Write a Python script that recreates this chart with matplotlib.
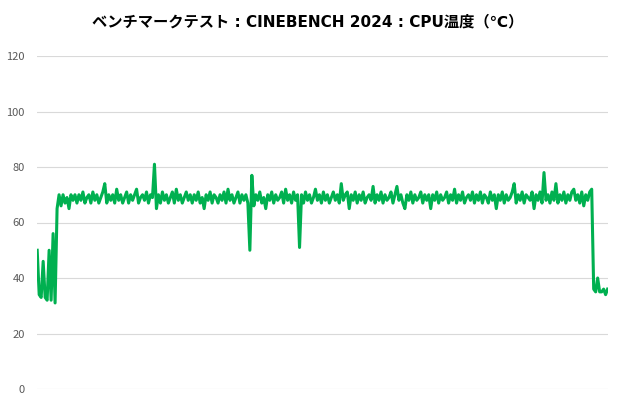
import matplotlib
matplotlib.use('Agg')
import matplotlib.pyplot as plt

# CPU temperature samples (deg C)
temps = [
    50, 34, 33, 46, 33, 32, 50, 32, 56, 31, 65,
    70, 66, 70, 67, 69, 65, 70, 68, 70,
    67, 70, 68, 71, 67, 69, 70, 67, 71, 68,
    70, 67, 69, 71, 74, 67, 70, 68, 70, 67,
    72, 68, 70, 67, 69, 71, 67, 70, 68, 70,
    72, 67, 69, 70, 68, 71, 67, 70, 69, 81,
    65, 70, 67, 71, 68, 70, 67, 69, 71, 67,
    72, 68, 70, 67, 69, 71, 68, 70, 67, 70,
    68, 71, 67, 69, 65, 70, 68, 71, 67, 70,
    69, 67, 70, 68, 71, 67, 72, 68, 70, 67,
    69, 71, 67, 70, 68, 70, 67, 50, 77, 66,
    70, 68, 71, 67, 69, 65, 70, 68, 71, 67,
    70, 68, 69, 71, 67, 72, 68, 70, 67, 71,
    68, 70, 51, 70, 67, 71, 68, 70, 67, 69,
    72, 68, 70, 67, 71, 68, 70, 67, 69, 71,
    68, 70, 67, 74, 68, 70, 71, 65, 70, 68,
    71, 67, 70, 68, 71, 67, 69, 70, 68, 73,
    67, 70, 68, 71, 67, 70, 68, 69, 71, 67,
    70, 73, 68, 70, 67, 65, 70, 68, 71, 67,
    70, 68, 69, 71, 67, 70, 68, 70, 65, 70,
    68, 71, 67, 70, 68, 69, 71, 67, 70, 68,
    72, 67, 70, 68, 71, 67, 69, 70, 68, 71,
    67, 70, 68, 71, 67, 70, 69, 67, 71, 68,
    70, 65, 70, 68, 71, 67, 70, 68, 69, 71,
    74, 67, 70, 68, 71, 67, 70, 69, 68, 71,
    65, 70, 68, 71, 67, 78, 68, 70, 67, 71,
    68, 74, 67, 70, 68, 71, 67, 70, 68, 71,
    72, 68, 70, 67, 71, 66, 70, 68, 71, 72,
    36, 35, 40, 35, 35, 36, 34, 36,
]
y_ticks = [0, 20, 40, 60, 80, 100, 120]
title = 'ベンチマークテスト : CINEBENCH 2024 : CPU温度（℃）'

plt.rcParams['font.family'] = ['Noto Sans CJK JP', 'DejaVu Sans']

fig = plt.figure(figsize=(6.2, 4.0), dpi=100)
ax = fig.add_axes([0.06, 0.0275, 0.92, 0.8325])

ax.plot(range(len(temps)), temps, color='#00b050', linewidth=2.2,
        solid_joinstyle='round')

ax.set_ylim(0, 120)
ax.set_xlim(0, len(temps) - 1)
ax.set_yticks(y_ticks)
ax.set_xticks([])
ax.grid(axis='y', color='#d9d9d9', linewidth=0.8)
ax.set_axisbelow(True)
for s in ax.spines.values():
    s.set_visible(False)
ax.tick_params(axis='y', length=0, labelsize=8, labelcolor='#595959', pad=9)

# latin part in a wider face, kana/kanji fall back to Noto CJK
fig.text(0.497, 0.945, title, ha='center', va='center',
         fontsize=11, fontweight='bold', color='#000000',
         family=['DejaVu Sans', 'Noto Sans CJK JP'])

fig.savefig('out.png', dpi=100)
